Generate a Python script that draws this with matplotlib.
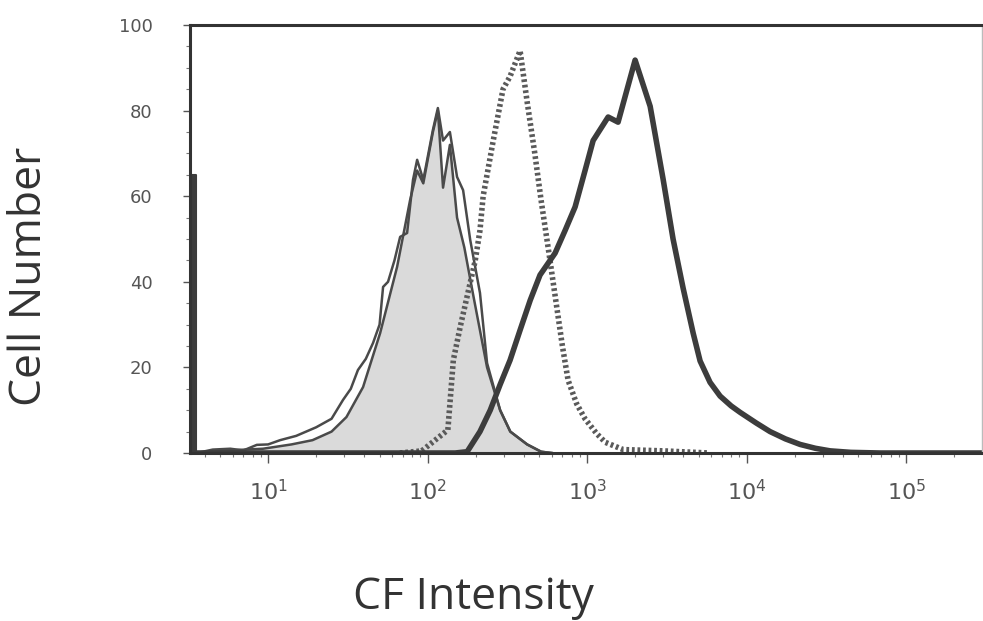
import matplotlib
matplotlib.use("Agg")
from matplotlib import pyplot as plt
from matplotlib.ticker import FixedLocator, LogLocator, NullFormatter
import numpy as np

# Pile-up spike at the left edge of the control histogram
spike_x = [3.35, 3.35, 3.55, 3.55]
spike_y = [0, 65, 65, 0]

# Control (open outline) histogram
open_x = [3.55, 3.9, 4.5, 5.8, 7, 8.5, 10, 11.9, 15, 20, 25, 29.5, 33, 36.6, 41,
          45.5, 50, 52.6, 56.5, 62, 67.3, 74.4, 81, 86, 94, 108, 116, 125, 138, 153, 167,
          185, 213, 236, 285, 330, 421, 515, 600]
open_y = [0, 0.3, 0.8, 1.0, 0.6, 1.9, 2.0, 3.0, 4.0, 6.0, 8.0, 12.4, 15, 19.4, 22,
          25.7, 30, 38.8, 40, 45, 50.5, 51.4, 63.8, 68.5, 63.8, 75.5, 80.6, 73, 75, 64.5, 61.4,
          49.8, 37.4, 21, 10, 5, 2, 0.3, 0]

# Filled (grey) histogram
filled_x = [3.6, 5, 9.3, 14, 19, 25, 31, 39.4, 50.4, 64.4, 77.6, 86, 94, 108, 116, 125,
            138, 153, 170, 193, 236, 285, 330, 421, 515, 600]
filled_y = [0, 0.5, 1.0, 2, 3, 5, 8.4, 15.4, 28, 43.5, 59, 66, 63, 75, 80, 62,
            72, 55, 48, 37, 20, 10, 5, 2, 0.3, 0]

# Dotted histogram
dotted_x = [67, 92, 134, 145, 160, 199, 213, 223, 258, 297, 329, 380, 421, 470, 515, 575,
            640, 700, 760, 860, 970, 1150, 1300, 1683, 3000, 5820]
dotted_y = [0, 0.5, 5.4, 21.7, 29.4, 45, 52, 60, 73, 85, 88, 94, 82, 70, 59, 47,
            35, 25, 17, 11.5, 8, 4.5, 2.5, 0.8, 0.5, 0]

# Bold solid histogram
solid_x = [3.6, 60, 149, 177, 213, 247, 285, 329, 380, 440, 507, 630, 728, 841, 971, 1091,
           1355, 1564, 2000, 2485, 2995, 3459, 4000, 4623, 5110, 5900, 6820, 8000, 9100,
           11500, 14030, 17500, 21650, 27000, 33400, 45000, 68700, 290000]
solid_y = [0, 0, 0, 0.3, 5, 10, 16, 21.7, 28.7, 35.7, 41.6, 46.7, 52, 57.5, 66, 73,
           78.5, 77.3, 91.8, 81, 64, 50, 38.5, 28, 21.5, 16.5, 13.3, 11, 9.5,
           7, 5, 3.3, 2, 1.1, 0.5, 0.15, 0, 0]

y_ticks = [0, 20, 40, 60, 80, 100]
x_ticks = [10, 100, 1000, 10000, 100000]
x_labels = ["$10^{1}$", "$10^{2}$", "$10^{3}$", "$10^{4}$", "$10^{5}$"]

fig = plt.figure(figsize=(9.83, 6.21), dpi=100)
ax = fig.add_axes([190 / 983, 1 - 453 / 621, (982 - 190) / 983, (453 - 25) / 621])

# Grey filled control with its outline
ax.fill_between(filled_x, filled_y, color="#dadada", lw=0)
ax.plot(filled_x, filled_y, color="#4a4a4a", lw=1.8)
ax.plot(open_x, open_y, color="#4a4a4a", lw=1.8)
ax.fill_between(spike_x, spike_y, color="#3c3c3c", lw=1.5, edgecolor="#3c3c3c")

# Dotted and bold curves
ax.plot(dotted_x, dotted_y, color="#5a5a5a", lw=4, dashes=(0.5, 0.5))
ax.plot(solid_x, solid_y, color="#3c3c3c", lw=4, solid_joinstyle="round")

ax.set_xscale("log")
ax.set_xlim(3.24, 2.99e5)
ax.set_ylim(0, 100)

# Ticks
ax.xaxis.set_major_locator(FixedLocator(x_ticks))
ax.set_xticklabels(x_labels)
ax.xaxis.set_minor_locator(LogLocator(base=10, subs=np.arange(2, 10)))
ax.xaxis.set_minor_formatter(NullFormatter())
ax.set_yticks(y_ticks)
ax.set_yticks(np.arange(0, 101, 5), minor=True)

ax.tick_params(axis="x", which="major", length=7, width=1, color="#555555", pad=12,
               labelsize=16, labelcolor="#555555")
ax.tick_params(axis="x", which="minor", length=3, width=0.8, color="#777777")
ax.tick_params(axis="y", which="major", length=5, width=1, color="#555555", pad=22,
               labelsize=13, labelcolor="#555555")
ax.tick_params(axis="y", which="minor", length=3, width=0.8, color="#777777")

for side in ["left", "top", "bottom"]:
    ax.spines[side].set_linewidth(2.2)
    ax.spines[side].set_color("#333333")
ax.spines["right"].set_linewidth(1)
ax.spines["right"].set_color("#bbbbbb")

# Axis titles placed in figure coords
fig.text(30 / 983, 1 - 276 / 621, "Cell Number", rotation=90, ha="center", va="center",
         fontsize=32, family="Open Sans", color="#333333")
fig.text(473 / 983, 1 - 598 / 621, "CF Intensity", ha="center", va="center",
         fontsize=32, family="Open Sans", color="#333333")

fig.savefig("out.png", dpi=100)
